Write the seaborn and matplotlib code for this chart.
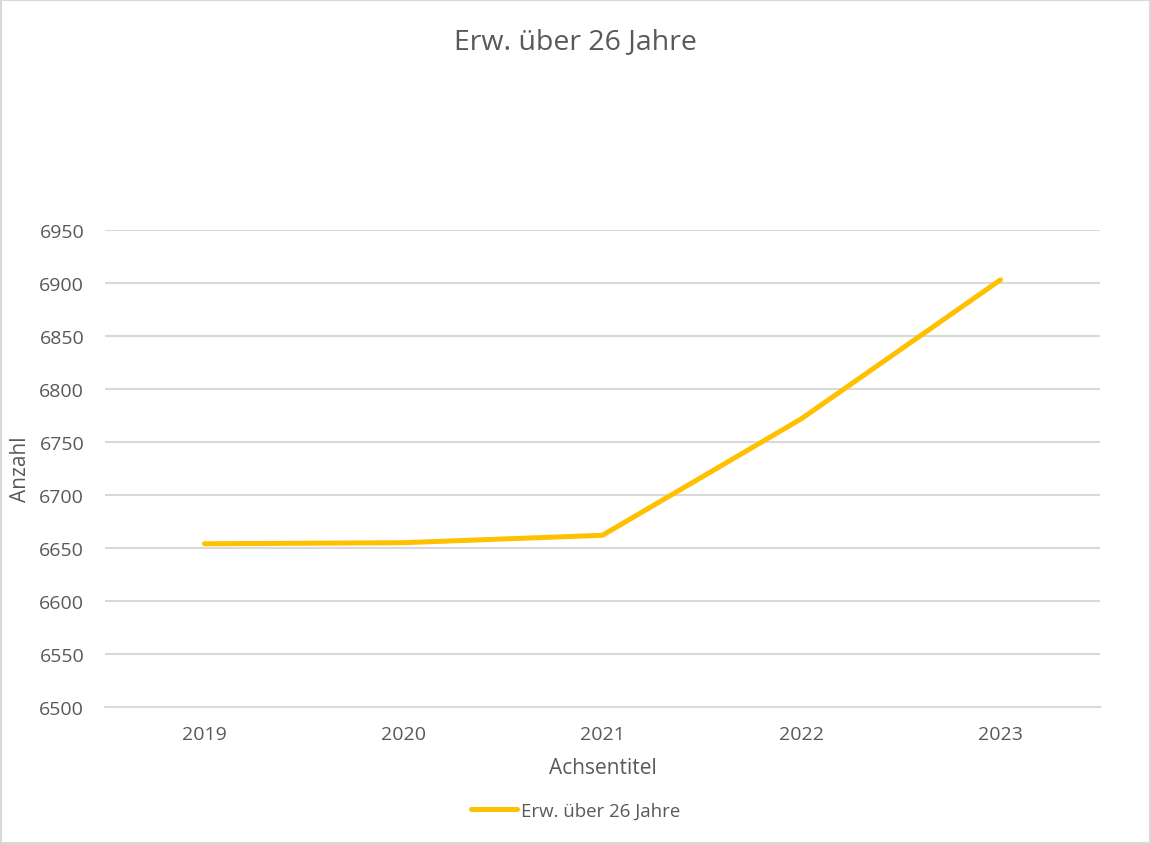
import matplotlib
matplotlib.use("Agg")
import matplotlib.pyplot as plt
import seaborn as sns
import pandas as pd
from matplotlib.patches import Rectangle

years = [2019, 2020, 2021, 2022, 2023]
values = [6654, 6655, 6662, 6772, 6903]
series_name = "Erw. über 26 Jahre"
y_ticks = [6500, 6550, 6600, 6650, 6700, 6750, 6800, 6850, 6900, 6950]

df = pd.DataFrame({"Jahr": years, "Anzahl": values, "Serie": series_name})

sns.set_theme(style="white")
plt.rcParams["font.family"] = ["Open Sans", "DejaVu Sans"]

text_color = "#595959"
grid_color = "#d9d9d9"
line_color = "#FFC000"

fig = plt.figure(figsize=(11.51, 8.45), dpi=100)
ax = fig.add_axes([105/1151, 1 - 708/845, (1100-105)/1151, (708-231)/845])

sns.lineplot(data=df, x="Jahr", y="Anzahl", hue="Serie", palette=[line_color],
             linewidth=3.6, ax=ax, legend=False, solid_capstyle="round")

ax.set_xlim(2018.5, 2023.5)
ax.set_ylim(6500, 6950)
ax.set_yticks(y_ticks)
ax.set_xticks(years)
ax.set_xticklabels([str(y) for y in years])
ax.yaxis.grid(True, color=grid_color, linewidth=1.5)
ax.set_axisbelow(True)
for s in ["top", "right", "left"]:
    ax.spines[s].set_visible(False)
ax.spines["bottom"].set_color(grid_color)
ax.spines["bottom"].set_linewidth(1.5)
ax.tick_params(axis="both", length=0, labelsize=14, labelcolor=text_color)
ax.tick_params(axis="x", pad=13)
ax.tick_params(axis="y", pad=15)

ax.set_xlabel("Achsentitel", fontsize=15, color=text_color, labelpad=10)
ax.set_ylabel("Anzahl", fontsize=15, color=text_color, labelpad=6)

fig.text(0.5, 1 - 42/845, series_name, ha="center", va="center",
         fontsize=20.5, color=text_color)

handle = plt.Line2D([], [], color=line_color, linewidth=3.6, solid_capstyle="round")
fig.legend([handle], [series_name], loc="center", bbox_to_anchor=(0.5, 1 - 812/845),
           frameon=False, fontsize=13.4, labelcolor=text_color,
           handlelength=2.5, handletextpad=0.2)

fig.patches.append(Rectangle((0.001, 0.001), 0.998, 0.998, transform=fig.transFigure,
                             fill=False, edgecolor=grid_color, linewidth=1.5))

fig.savefig("out.png", dpi=100, facecolor="white")
